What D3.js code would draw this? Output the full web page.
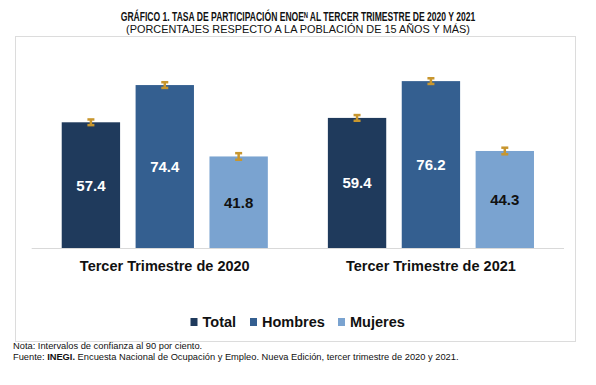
<!DOCTYPE html>
<html>
<head>
<meta charset="utf-8">
<script src="https://cdn.jsdelivr.net/npm/d3@7"></script>
<style>
  html, body { margin: 0; padding: 0; background: #fff; }
  svg { display: block; font-family: "Liberation Sans", Arial, sans-serif; }
</style>
</head>
<body>
<svg id="chart" width="596" height="385"></svg>
<script>
const groups = ["Tercer Trimestre de 2020", "Tercer Trimestre de 2021"];
const series = ["Total", "Hombres", "Mujeres"];
const total   = [57.4, 59.4];
const hombres = [74.4, 76.2];
const mujeres = [41.8, 44.3];
// 90% confidence interval half-widths (approximate)
const ciTotal   = [1.3, 1.3];
const ciHombres = [1.3, 1.3];
const ciMujeres = [1.5, 1.5];
const colors = ["#1f3a5c", "#345f90", "#7aa3d0"];
const labelColors = ["#ffffff", "#ffffff", "#111111"];

const values = [total, hombres, mujeres];
const cis = [ciTotal, ciHombres, ciMujeres];
const data = [];
groups.forEach((g, gi) => series.forEach((s, si) => {
  data.push({ group: g, series: s, si, value: values[si][gi], ci: cis[si][gi] });
}));

const svg = d3.select("#chart");

// frame
svg.append("rect").attr("x", 15.5).attr("y", 36.5).attr("width", 560).attr("height", 305)
  .attr("fill", "none").attr("stroke", "#dcdcdc").attr("stroke-width", 1);

// title (horizontally condensed to match the narrow face of the reference)
function condensedText(str, cxPos, yPos, size, weight, targetW) {
  const g = svg.append("g");
  const t = g.append("text").attr("x", 0).attr("y", 0).attr("text-anchor", "middle")
    .attr("font-size", size).attr("font-weight", weight).attr("fill", "#111")
    .text(str);
  const w = t.node().getComputedTextLength();
  g.attr("transform", `translate(${cxPos},${yPos}) scale(${targetW / w},1)`);
}
condensedText("GRÁFICO 1. TASA DE PARTICIPACIÓN ENOEᴺ AL TERCER TRIMESTRE DE 2020 Y 2021", 298, 21, 12.5, "bold", 355);
condensedText("(PORCENTAJES RESPECTO A LA POBLACIÓN DE 15 AÑOS Y MÁS)", 298, 33, 10.5, "normal", 344);

const baseline = 248;
const x0 = d3.scaleBand().domain(groups).range([31.7, 564]).paddingInner(0.2256).paddingOuter(0.1128);
const x1 = d3.scaleBand().domain(series).range([0, x0.bandwidth()]).paddingInner(0.21).paddingOuter(0);
const y = d3.scaleLinear().domain([0, 80]).range([baseline, baseline - 80 * 2.19]);

// baseline axis line
svg.append("line").attr("x1", 31.7).attr("x2", 564).attr("y1", baseline + 0.5).attr("y2", baseline + 0.5)
  .attr("stroke", "#d9d9d9").attr("stroke-width", 1);

// bars
svg.append("g").selectAll("rect").data(data).join("rect")
  .attr("x", d => x0(d.group) + x1(d.series))
  .attr("y", d => y(d.value))
  .attr("width", x1.bandwidth())
  .attr("height", d => y(0) - y(d.value))
  .attr("fill", d => colors[d.si]);

// error bars
const cx = d => x0(d.group) + x1(d.series) + x1.bandwidth() / 2;
const eb = svg.append("g").selectAll("g").data(data).join("g")
  .attr("stroke", "#c8962e").attr("fill", "none");
eb.append("line")
  .attr("x1", cx).attr("x2", cx)
  .attr("y1", d => y(d.value + d.ci))
  .attr("y2", d => y(d.value - d.ci))
  .attr("stroke-width", 2.5);
eb.append("line")
  .attr("x1", d => cx(d) - 3.5).attr("x2", d => cx(d) + 3.5)
  .attr("y1", d => y(d.value + d.ci)).attr("y2", d => y(d.value + d.ci))
  .attr("stroke-width", 2.5);
eb.append("line")
  .attr("x1", d => cx(d) - 3.5).attr("x2", d => cx(d) + 3.5)
  .attr("y1", d => y(d.value - d.ci)).attr("y2", d => y(d.value - d.ci))
  .attr("stroke-width", 2.5);

// value labels
svg.append("g").selectAll("text").data(data).join("text")
  .attr("x", cx)
  .attr("y", d => (y(d.value) + y(0)) / 2 + 5.5)
  .attr("text-anchor", "middle")
  .attr("font-size", 15).attr("font-weight", "bold")
  .attr("fill", d => labelColors[d.si])
  .text(d => d.value.toFixed(1));

// category labels
svg.append("g").selectAll("text").data(groups).join("text")
  .attr("x", d => x0(d) + x0.bandwidth() / 2)
  .attr("y", 270.5)
  .attr("text-anchor", "middle")
  .attr("font-size", 14.5).attr("font-weight", "bold").attr("fill", "#111")
  .text(d => d);

// legend
const legendX = [190.5, 250, 338];
const lg = svg.append("g").selectAll("g").data(series).join("g")
  .attr("transform", (d, i) => `translate(${legendX[i]},0)`);
lg.append("rect").attr("x", 0).attr("y", 318).attr("width", 7).attr("height", 8)
  .attr("fill", (d, i) => colors[i]);
lg.append("text").attr("x", 12).attr("y", 327)
  .attr("font-size", 14.5).attr("font-weight", "bold").attr("fill", "#111")
  .text(d => d);

// notes
svg.append("text").attr("x", 13).attr("y", 349).attr("font-size", 9.3).attr("fill", "#111")
  .text("Nota: Intervalos de confianza al 90 por ciento.");
svg.append("text").attr("x", 13).attr("y", 360).attr("font-size", 9.3).attr("fill", "#111")
  .call(t => {
    t.append("tspan").text("Fuente: ");
    t.append("tspan").attr("font-weight", "bold").text("INEGI.");
    t.append("tspan").text(" Encuesta Nacional de Ocupación y Empleo. Nueva Edición, tercer trimestre de 2020 y 2021.");
  });
</script>
</body>
</html>
